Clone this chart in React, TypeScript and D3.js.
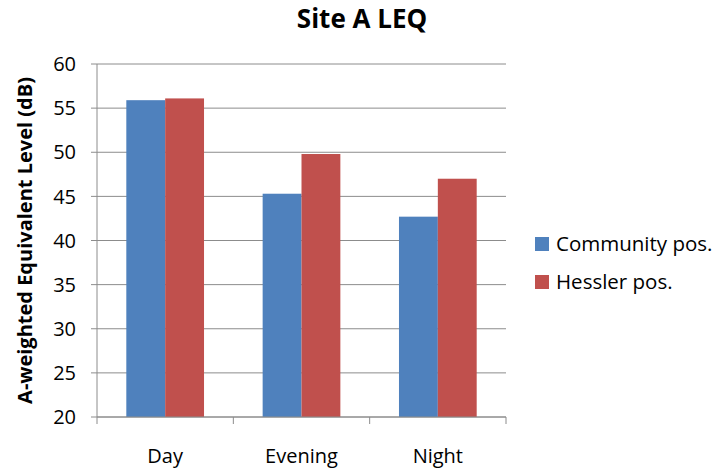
import React from "react";
import * as d3 from "d3";

const categories = ["Day", "Evening", "Night"];
const seriesNames = ["Community pos.", "Hessler pos."];
const communityValues = [55.9, 45.3, 42.7];
const hesslerValues = [56.1, 49.8, 47.0];
const yTicks = [20, 25, 30, 35, 40, 45, 50, 55, 60];
const colors = ["#4F81BD", "#C0504D"];

const W = 716;
const H = 472;
const margin = { left: 97, right: 210, top: 64, bottom: 55 };
const font = "'Open Sans', Lato, sans-serif";

export default function App() {
  const x0 = d3
    .scaleBand<string>()
    .domain(categories)
    .range([margin.left, W - margin.right])
    .paddingInner(0.43)
    .paddingOuter(0.215);
  const outer = d3
    .scaleBand<string>()
    .domain(categories)
    .range([margin.left, W - margin.right]);
  const x1 = d3
    .scaleBand<string>()
    .domain(seriesNames)
    .range([0, x0.bandwidth()]);
  const y = d3
    .scaleLinear()
    .domain([20, 60])
    .range([H - margin.bottom, margin.top]);

  const series = [communityValues, hesslerValues];
  const plotRight = W - margin.right;
  const bottom = y(20);

  return (
    <svg
      width={W}
      height={H}
      style={{ position: "absolute", left: 0, top: 0, background: "#fff" }}
      fontFamily={font}
    >
      <text x={362} y={28} textAnchor="middle" fontSize={26} fontWeight="bold" fill="#000">
        Site A LEQ
      </text>

      {yTicks.map((t) => (
        <g key={t}>
          <line x1={margin.left - 6} x2={plotRight} y1={y(t)} y2={y(t)} stroke="#8c8c8c" strokeWidth={1} />
          <text x={margin.left - 21} y={y(t)} dy="0.36em" textAnchor="end" fontSize={20} fill="#000">
            {t}
          </text>
        </g>
      ))}

      {series.map((vals, si) =>
        categories.map((c, ci) => {
          const xv = (x0(c) as number) + (x1(seriesNames[si]) as number);
          return (
            <rect
              key={`${si}-${ci}`}
              x={xv}
              y={y(vals[ci])}
              width={x1.bandwidth()}
              height={bottom - y(vals[ci])}
              fill={colors[si]}
            />
          );
        })
      )}

      <line x1={margin.left} x2={margin.left} y1={margin.top} y2={bottom} stroke="#8c8c8c" />
      <line x1={margin.left} x2={plotRight} y1={bottom} y2={bottom} stroke="#8c8c8c" />
      {[...categories.map((c) => outer(c) as number), plotRight].map((xv, i) => (
        <line key={i} x1={xv} x2={xv} y1={bottom} y2={bottom + 7} stroke="#8c8c8c" />
      ))}
      {categories.map((c) => (
        <text
          key={c}
          x={(outer(c) as number) + outer.bandwidth() / 2}
          y={bottom + 46}
          textAnchor="middle"
          fontSize={20}
          fill="#000"
        >
          {c}
        </text>
      ))}

      <text
        transform={`translate(32, ${(margin.top + bottom) / 2}) rotate(-90)`}
        textAnchor="middle"
        fontSize={20}
        fontWeight="bold"
        fill="#000"
      >
        A-weighted Equivalent Level (dB)
      </text>

      {seriesNames.map((s, i) => (
        <g key={s} transform={`translate(535, ${237 + i * 38})`}>
          <rect x={0} y={0} width={14} height={14} fill={colors[i]} />
          <text x={21} y={7} dy="0.36em" fontSize={20.5} fill="#000">
            {s}
          </text>
        </g>
      ))}
    </svg>
  );
}
